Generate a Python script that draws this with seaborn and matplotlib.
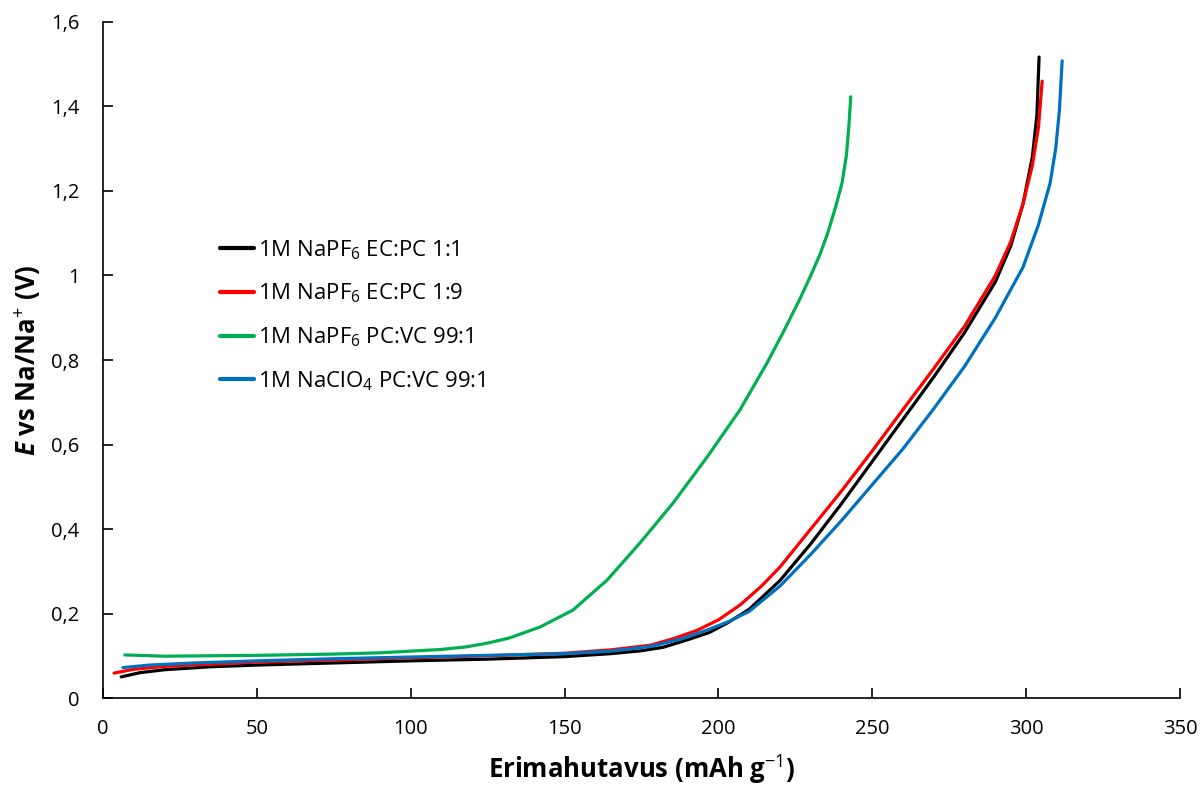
import numpy as np
import pandas as pd
import matplotlib
matplotlib.use("Agg")
import matplotlib.pyplot as plt
import seaborn as sns
from matplotlib.ticker import FuncFormatter, MultipleLocator

# ---- data ----
labels = ["1M NaPF$_6$ EC:PC 1:1", "1M NaPF$_6$ EC:PC 1:9",
          "1M NaPF$_6$ PC:VC 99:1", "1M NaClO$_4$ PC:VC 99:1"]

black_x = [5.9, 12, 20, 35, 50, 75, 100, 125, 150, 165, 175, 182, 190, 197, 203, 210, 220, 230, 240, 250, 260, 270, 280, 290, 295, 299, 302, 303.5, 304.2]
black_y = [0.050, 0.060, 0.067, 0.074, 0.078, 0.083, 0.088, 0.092, 0.098, 0.105, 0.112, 0.120, 0.138, 0.155, 0.178, 0.210, 0.278, 0.365, 0.460, 0.560, 0.660, 0.760, 0.865, 0.985, 1.070, 1.170, 1.280, 1.380, 1.517]

red_x = [3.6, 10, 20, 35, 50, 75, 100, 125, 150, 165, 178, 186, 193, 200, 207, 214, 220, 230, 240, 250, 260, 270, 280, 290, 295, 299, 302, 304, 305.2]
red_y = [0.059, 0.068, 0.075, 0.080, 0.085, 0.090, 0.095, 0.100, 0.106, 0.114, 0.125, 0.142, 0.160, 0.185, 0.220, 0.265, 0.310, 0.400, 0.490, 0.585, 0.683, 0.780, 0.880, 1.000, 1.080, 1.170, 1.260, 1.350, 1.460]

green_x = [7.1, 20, 35, 50, 75, 90, 100, 110, 118, 125, 132, 142, 152.7, 163.8, 174.5, 185.2, 196.3, 207, 215.8, 221, 226.5, 230, 233, 235.5, 238, 240.2, 241.6, 242.4, 243.0]
green_y = [0.102, 0.099, 0.100, 0.101, 0.104, 0.107, 0.111, 0.115, 0.121, 0.130, 0.142, 0.168, 0.208, 0.279, 0.367, 0.461, 0.570, 0.682, 0.793, 0.865, 0.945, 1.000, 1.050, 1.100, 1.160, 1.220, 1.285, 1.355, 1.423]

blue_x = [6.5, 15, 30, 50, 75, 100, 125, 150, 165, 178, 188, 196, 203, 210, 220, 230, 240, 250, 260, 270, 280, 290, 299, 304, 307.8, 309.6, 310.8, 311.7]
blue_y = [0.072, 0.078, 0.083, 0.088, 0.093, 0.097, 0.101, 0.105, 0.111, 0.122, 0.140, 0.160, 0.180, 0.205, 0.265, 0.340, 0.420, 0.505, 0.590, 0.685, 0.785, 0.900, 1.020, 1.120, 1.219, 1.300, 1.390, 1.508]

colors = ["#000000", "#FF0000", "#00B050", "#0070C0"]

frames = []
for lab, xs, ys in zip(labels, [black_x, red_x, green_x, blue_x], [black_y, red_y, green_y, blue_y]):
    frames.append(pd.DataFrame({"x": xs, "y": ys, "series": lab}))
df = pd.concat(frames, ignore_index=True)

FONT = "Open Sans"
sns.set_style("white")
plt.rcParams["font.family"] = [FONT, "DejaVu Sans"]
plt.rcParams["mathtext.fontset"] = "custom"
plt.rcParams["mathtext.rm"] = FONT
plt.rcParams["mathtext.it"] = FONT + ":italic"
plt.rcParams["mathtext.bf"] = FONT + ":bold"
plt.rcParams["mathtext.bfit"] = FONT + ":bold:italic"
plt.rcParams["text.color"] = "black"

fig = plt.figure(figsize=(12.02, 7.85), dpi=100)
ax = fig.add_axes([0.0857, 0.1108, 0.8960, 0.8612])

sns.lineplot(data=df, x="x", y="y", hue="series", palette=colors, sort=False,
             estimator=None, linewidth=2.3, ax=ax, hue_order=labels)

ax.set_xlim(0, 350)
ax.set_ylim(0, 1.6)
ax.xaxis.set_major_locator(MultipleLocator(50))
ax.yaxis.set_major_locator(MultipleLocator(0.2))

def comma_fmt(v, pos):
    s = f"{v:.1f}".rstrip("0").rstrip(".")
    return s.replace(".", ",")

ax.yaxis.set_major_formatter(FuncFormatter(comma_fmt))
ax.tick_params(axis="both", direction="in", length=7, width=1.2, labelsize=14.5,
               colors="black", left=True, bottom=True)
ax.tick_params(axis="y", pad=17)
ax.tick_params(axis="x", pad=15)
for s in ["top", "right"]:
    ax.spines[s].set_visible(False)
for s in ["left", "bottom"]:
    ax.spines[s].set_color("black")
    ax.spines[s].set_linewidth(1.2)

ax.set_xlabel("Erimahutavus (mAh g$^{-1}$)", fontsize=18.5, fontweight="bold",
              labelpad=11, color="black")
ax.set_ylabel("$\\boldsymbol{E}$ vs Na/Na$^{+}$ (V)", fontsize=18.5, fontweight="bold",
              labelpad=5, color="black")

leg = ax.legend(loc="center left", bbox_to_anchor=(0.0985, 0.566), frameon=False,
                borderpad=0, fontsize=16, handlelength=1.5, handletextpad=0.2,
                labelspacing=0.9)
for line in leg.get_lines():
    line.set_linewidth(3)

fig.savefig("out.png", dpi=100)
